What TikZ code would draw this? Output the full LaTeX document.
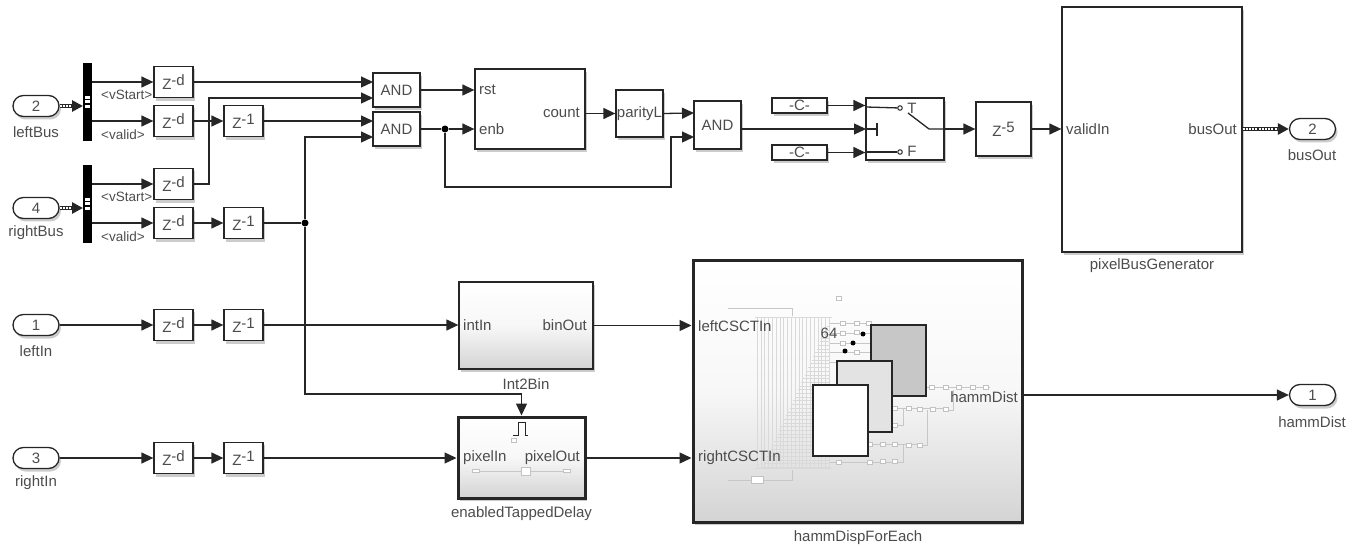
\documentclass[tikz,border=0pt]{standalone}
\usepackage{fontspec}
\setmainfont{Liberation Sans}
\usetikzlibrary{
  arrows.meta,
  shadows,
  shapes.misc
}
\tikzset{
  shadowed/.style={drop shadow={shadow xshift=2pt, shadow yshift=-3pt, opacity=0.2, fill=black}},
  block/.style={rectangle, draw=black!85, line width=1.3pt, fill=white, inner sep=0pt,
    shadowed, font=\fontsize{15}{15}\selectfont, text=black!70},
  delay/.style={block, minimum width=39pt, minimum height=31.5pt},
  andgate/.style={block, minimum width=47pt, minimum height=34pt},
  constblock/.style={block, minimum width=55pt, minimum height=15pt},
  port/.style={rounded rectangle, draw=black!85, line width=1.3pt, fill=white, inner sep=0pt,
    minimum width=46pt, minimum height=21pt, shadowed,
    font=\fontsize{15}{15}\selectfont, text=black!70},
  selector/.style={rectangle, fill=black, inner sep=0pt, minimum width=9pt, minimum height=78pt},
  junction/.style={circle, fill=black, inner sep=0pt, minimum size=7pt},
  sig/.style={-{Triangle[length=12pt,width=11pt]}, line width=1.3pt, draw=black!85},
  wire/.style={line width=1.3pt, draw=black!85},
  busline/.style={-{Triangle[length=11pt,width=11pt]}, line width=4pt, draw=black!85,
    postaction={draw=white, -, shorten >=11pt, line width=1.8pt, dash pattern=on 2pt off 1.2pt}},
  lbl/.style={inner sep=0pt, font=\fontsize{15}{15}\selectfont, text=black!70},
  taglbl/.style={inner sep=0pt, font=\fontsize{13.5}{14}\selectfont, text=black!70},
  ghost/.style={draw=black!15, line width=0.5pt},
  ghostlink/.style={draw=black!22, line width=0.6pt},
  minibox/.style={rectangle, draw=black!24, line width=0.5pt, fill=white, inner sep=0pt,
    minimum width=5pt, minimum height=4pt},
  pane/.style={rectangle, draw=black!85, line width=1.3pt, inner sep=0pt,
    minimum width=55pt, minimum height=71pt}
}
\newcommand{\zpow}[1]{Z\raisebox{4pt}{#1}}

\begin{document}
\begin{tikzpicture}[x=1pt, y=-1pt]
\useasboundingbox (0,0) rectangle (1357,548);

% inports
\node[port] (leftBus)  at (36,106) {2};
\node[port] (rightBus) at (36,208) {4};
\node[port] (leftIn)   at (36,325) {1};
\node[port] (rightIn)  at (36,458) {3};
\node[lbl] (leftBusLbl)  at (36,132) {leftBus};
\node[lbl] (rightBusLbl) at (36,233) {rightBus};
\node[lbl] (leftInLbl)   at (36,351) {leftIn};
\node[lbl] (rightInLbl)  at (36,483) {rightIn};

% bus selectors
\node[selector] (selA) at (87.5,102) {};
\node[selector] (selB) at (87.5,204) {};
\foreach \s in {selA,selB} {
  \fill[white] (\s.center) ++(-2.5,-6) rectangle ++(5,3.5);
  \fill[white] (\s.center) ++(-2.5,-1.5) rectangle ++(5,3);
  \fill[white] (\s.center) ++(-2.5,3) rectangle ++(5,3);
}
\coordinate (selAtop) at (92,82);
\coordinate (selAbot) at (92,121);
\coordinate (selBtop) at (92,184);
\coordinate (selBbot) at (92,223);
\coordinate (selAin) at (83,106);
\coordinate (selBin) at (83,208);
\node[taglbl, anchor=west] (tagA) at (101,95)  {<vStart>};
\node[taglbl, anchor=west] (tagB) at (101,135) {<valid>};
\node[taglbl, anchor=west] (tagC) at (101,197) {<vStart>};
\node[taglbl, anchor=west] (tagD) at (101,237) {<valid>};

% delays
\node[delay] (zdA) at (173.5,82)  {\zpow{-d}};
\node[delay] (zdB) at (173.5,121) {\zpow{-d}};
\node[delay] (zdC) at (173.5,184) {\zpow{-d}};
\node[delay] (zdD) at (173.5,223) {\zpow{-d}};
\node[delay] (zdE) at (173.5,325) {\zpow{-d}};
\node[delay] (zdF) at (173.5,458) {\zpow{-d}};
\node[delay] (zoneB) at (243.5,121) {\zpow{-1}};
\node[delay] (zoneD) at (243.5,223) {\zpow{-1}};
\node[delay] (zoneE) at (243.5,325) {\zpow{-1}};
\node[delay] (zoneF) at (243.5,458) {\zpow{-1}};

% logic row
\node[andgate] (andA) at (396.5,90)  {AND};
\node[andgate] (andB) at (396.5,129) {AND};
\node[block, minimum width=110pt, minimum height=80pt] (counter) at (530,109) {};
\node[lbl, anchor=west] (rstLbl)   at (479,90)  {rst};
\node[lbl, anchor=west] (enbLbl)   at (479,129) {enb};
\node[lbl, anchor=east] (countLbl) at (580,113) {count};
\node[block, minimum width=47pt, minimum height=47pt] (parity) at (639.5,113.5) {parityL};
\node[block, minimum width=47pt, minimum height=48pt] (andC) at (717.5,125) {AND};
\node[constblock] (constT) at (799.5,105.5) {-C-};
\node[constblock] (constF) at (799.5,152.5) {-C-};
\node[block, minimum width=78pt, minimum height=62pt] (switch) at (905,129) {};
\node[block, minimum width=55pt, minimum height=54pt] (zfive) at (1003.5,129) {\zpow{-5}};
\node[block, minimum width=180pt, minimum height=245pt] (gen) at (1152,129.5) {};
\node[lbl, anchor=west] (validLbl)  at (1066,129) {validIn};
\node[lbl, anchor=east] (busOutIn)  at (1237,129) {busOut};
\node[lbl] (genLbl) at (1152,266) {pixelBusGenerator};

% switch symbol
\node[circle, draw=black!85, line width=1pt, fill=white, inner sep=0pt, minimum size=4.5pt] (swT) at (900,108) {};
\node[circle, draw=black!85, line width=1pt, fill=white, inner sep=0pt, minimum size=4.5pt] (swF) at (900,152) {};
\node[lbl] (swTLbl) at (912,108) {T};
\node[lbl] (swFLbl) at (912,151) {F};
\coordinate (swInT) at (866,107);
\coordinate (swInF) at (866,152);
\coordinate (swInC) at (866,129);
\coordinate (swBar) at (877,129);
\coordinate (swPivot) at (929,129);
\coordinate (swTip) at (908,113);
\draw[wire] (swInT) -- (swT);
\draw[wire] (swInF) -- (swF);
\draw[wire] (swInC) -- (swBar);
\draw[wire] (877,123) -- (877,136);
\draw[wire] (swTip) -- (swPivot) -- (switch.east);

% subsystems
\node[block, top color=white, bottom color=black!17, middle color=black!3,
      minimum width=134pt, minimum height=87pt] (intbin) at (526,325.5) {};
\node[lbl, anchor=west] (intInLbl)  at (463,325) {intIn};
\node[lbl, anchor=east] (binOutLbl) at (587,325) {binOut};
\node[lbl] (intbinLbl) at (526,384) {Int2Bin};

\node[block, line width=3pt, top color=white, bottom color=black!17, middle color=black!3,
      minimum width=127pt, minimum height=81pt] (tapped) at (521.5,457.5) {};
\node[lbl, anchor=west] (pixInLbl)  at (463,458) {pixelIn};
\node[lbl, anchor=east] (pixOutLbl) at (580,458) {pixelOut};
\node[lbl] (tappedLbl) at (521.5,514) {enabledTappedDelay};
\draw[wire, line width=1pt] (513,435) -- (518,435) -- (518,422) -- (525,422) -- (525,435) -- (528,435);
\draw[ghostlink] (476,471) -- (567,471);
\node[minibox] (tapA) at (514,440) {};
\node[minibox, minimum width=7pt, minimum height=3pt] (tapB) at (476,471) {};
\node[minibox, minimum width=9pt, minimum height=8pt] (tapC) at (526,471) {};
\node[minibox, minimum width=7pt, minimum height=3pt] (tapD) at (567,471) {};

\node[block, line width=3pt, top color=white, bottom color=black!17, middle color=black!3,
      minimum width=329pt, minimum height=262pt] (hamm) at (857.5,391) {};
\node[lbl] (hammLbl) at (858,538) {hammDispForEach};

% ghost content of hammDispForEach
\foreach \i in {0,...,19} {
  \draw[ghost] ({757+3.8*\i},317) -- ({757+3.8*\i},468);
}
\foreach \i in {0,...,39} {
  \pgfmathsetmacro{\rowy}{323+3.7*\i}
  \pgfmathsetmacro{\rowx}{762+(468-\rowy)*0.46}
  \draw[ghost] (\rowx,\rowy) -- (830,\rowy);
}
\draw[ghost, line width=0.8pt] (755,317) -- (832,317);
\draw[ghost, line width=0.8pt] (755,468) -- (832,468);
\draw[ghostlink] (728,308) -- (792,308) -- (792,316);
\draw[ghostlink] (728,480) -- (792,480) -- (792,470);
\foreach \y in {323,333,343,352,362} {
  \draw[ghostlink] (830,\y) -- (872,\y);
}
\draw[ghostlink] (926,387) -- (990,387);
\draw[ghostlink] (892,408) -- (946,408);
\draw[ghostlink] (868,444) -- (920,444);
\draw[ghostlink] (830,462) -- (895,462);
\draw[ghostlink] (953,390) -- (953,410) -- (946,410);
\draw[ghostlink] (927,410) -- (927,445) -- (920,445);
\draw[ghostlink] (903,445) -- (903,462) -- (895,462);
\draw[ghostlink] (892,425) -- (903,425) -- (903,408);
\foreach \x/\y [count=\n] in {839/298,857/323,869/323,857/332,857/352,932/387,946/387,959/387,973/387,986/387,
    895/408,909/408,920/409,933/409,946/409,895/425,870/444,883/444,895/444,909/445,920/445,
    839/462,870/462,883/461,895/461,843/323,843/333,843/343} {
  \node[minibox] (mini\n) at (\x,\y) {};
}
\node[minibox, minimum width=12pt, minimum height=7pt] (hammRect) at (757,480) {};
\node[junction, minimum size=5pt] (dotA) at (863,334) {};
\node[junction, minimum size=5pt] (dotB) at (853,343) {};
\node[junction, minimum size=5pt] (dotC) at (845,351) {};
\node[lbl] (sixtyfour) at (829,333) {64};
\node[pane, fill=black!22] (paneC) at (898.5,360.5) {};
\node[pane, fill=black!11] (paneB) at (864.5,396.5) {};
\node[pane, fill=white]    (paneA) at (840.5,420.5) {};
\node[lbl, anchor=west] (leftCLbl)  at (698,326) {leftCSCTIn};
\node[lbl, anchor=west] (rightCLbl) at (698,458) {rightCSCTIn};
\node[lbl, anchor=east] (hammOutLbl) at (1018,397) {hammDist};

% outports
\node[port] (busOut)   at (1312.5,129) {2};
\node[port] (hammDist) at (1312.5,395) {1};
\node[lbl] (busOutLbl)   at (1312,155) {busOut};
\node[lbl] (hammDistLbl) at (1312,422) {hammDist};

% junctions and turns
\node[junction] (jtA) at (305,223) {};
\node[junction] (jtB) at (445,129) {};
\coordinate (andAup)  at (373,82);
\coordinate (andAlow) at (373,98);
\coordinate (andBup)  at (373,120);
\coordinate (andBlow) at (373,137);
\coordinate (andCup)  at (694,113);
\coordinate (andClow) at (694,137);
\coordinate (vsTurn)  at (209,98);
\coordinate (enTurn)  at (521.5,394);
\coordinate (fbTurn)  at (671,187);

% arrows
\draw[busline] (leftBus.east) -- (selAin);
\draw[busline] (rightBus.east) -- (selBin);
\draw[sig] (selAtop) -- (zdA.west);
\draw[sig] (selAbot) -- (zdB.west);
\draw[sig] (selBtop) -- (zdC.west);
\draw[sig] (selBbot) -- (zdD.west);
\draw[sig] (leftIn.east) -- (zdE.west);
\draw[sig] (rightIn.east) -- (zdF.west);
\draw[sig] (zdB.east) -- (zoneB.west);
\draw[sig] (zdD.east) -- (zoneD.west);
\draw[sig] (zdE.east) -- (zoneE.west);
\draw[sig] (zdF.east) -- (zoneF.west);
\draw[sig] (zdA.east) -- (andAup);
\draw[sig] (zdC.east) -| (vsTurn) -- (andAlow);
\draw[sig] (zoneB.east) -- (zoneB.east -| andBup);
\draw[wire] (zoneD.east) -- (jtA);
\draw[sig] (jtA) |- (andBlow);
\draw[sig] (jtA) |- (enTurn) -- (tapped.north);
\draw[sig] (andA.east) -- (counter.west |- andA.east);
\draw[wire] (andB.east) -- (jtB);
\draw[sig] (jtB) -- (counter.west |- jtB);
\draw[sig] (jtB) |- (fbTurn) |- (andClow);
\draw[sig] (counter.east |- parity.west) -- (parity.west);
\draw[sig] (parity.east) -- (andCup);
\draw[sig] (andC.east |- swInC) -- (swInC);
\draw[sig] (constT.east) -- (switch.west |- constT.east);
\draw[sig] (constF.east) -- (switch.west |- constF.east);
\draw[sig] (switch.east) -- (zfive.west);
\draw[sig] (zfive.east) -- (gen.west |- zfive.east);
\draw[busline] (gen.east |- busOut.west) -- (busOut.west);
\draw[sig] (zoneE.east) -- (intbin.west |- zoneE.east);
\draw[sig] (zoneF.east) -- (tapped.west |- zoneF.east);
\draw[sig] (intbin.east) -- (hamm.west |- intbin.east);
\draw[sig] (tapped.east |- zoneF.east) -- (hamm.west |- zoneF.east);
\draw[sig] (hamm.east |- hammDist.west) -- (hammDist.west);

\end{tikzpicture}
\end{document}
